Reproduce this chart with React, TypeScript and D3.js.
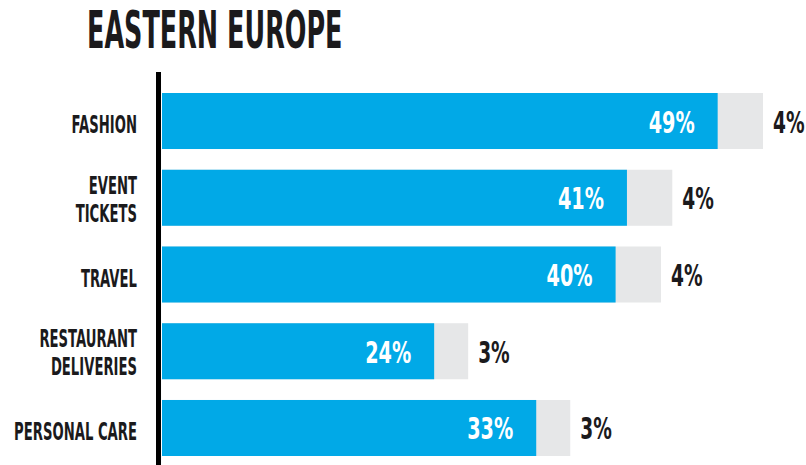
import React from "react";
import * as d3 from "d3";

const title = "EASTERN EUROPE";
const categories = ["FASHION", "EVENT TICKETS", "TRAVEL", "RESTAURANT DELIVERIES", "PERSONAL CARE"];
const categoryLines = [["FASHION"], ["EVENT", "TICKETS"], ["TRAVEL"], ["RESTAURANT", "DELIVERIES"], ["PERSONAL CARE"]];
const mainValues = [49, 41, 40, 24, 33];
const extraValues = [4, 4, 4, 3, 3];

const W = 806;
const H = 465;
const BLUE = "#01a9e7";
const GREY = "#e6e7e8";
const INK = "#1b1a1c";
const FONT = "'DejaVu Sans', sans-serif";

export default function App() {
  const x = d3.scaleLinear().domain([0, 53]).range([162, 162 + 53 * 11.34]);
  const y = d3.scaleBand<string>().domain(categories).range([93, 456]).paddingInner(0.27).paddingOuter(0);
  const bw = y.bandwidth();

  return (
    <svg width={W} height={H} style={{ position: "absolute", left: 0, top: 0, background: "#fff" }}>
      <text
        transform={`translate(87,48) scale(0.49,1)`}
        fontFamily={FONT}
        fontWeight="bold"
        fontSize={52}
        fill={INK}
      >
        {title}
      </text>
      <rect x={156} y={72} width={5} height={H - 72} fill="#000" />
      {categories.map((c, i) => {
        const y0 = y(c) as number;
        const cy = y0 + bw / 2;
        const v = mainValues[i];
        const e = extraValues[i];
        const lines = categoryLines[i];
        return (
          <g key={c}>
            <rect x={x(0)} y={y0} width={x(v + e) - x(0)} height={bw} fill={GREY} />
            <rect x={x(0)} y={y0} width={x(v) - x(0)} height={bw} fill={BLUE} />
            <text
              transform={`translate(${x(v) - 23},${cy + 11.5}) scale(0.62,1)`}
              textAnchor="end"
              fontFamily={FONT}
              fontWeight="bold"
              fontSize={31}
              fill="#fff"
            >
              {v}%
            </text>
            <text
              transform={`translate(${x(v + e) + 10},${cy + 11.5}) scale(0.6,1)`}
              textAnchor="start"
              fontFamily={FONT}
              fontWeight="bold"
              fontSize={31}
              fill={INK}
            >
              {e}%
            </text>
            {lines.map((ln, j) => {
              const by = lines.length === 1 ? cy + 12 : cy - 4 + j * 28;
              return (
                <text
                  key={ln}
                  transform={`translate(137,${by}) scale(0.55,1)`}
                  textAnchor="end"
                  fontFamily={FONT}
                  fontWeight="bold"
                  fontSize={24}
                  fill={INK}
                >
                  {ln}
                </text>
              );
            })}
          </g>
        );
      })}
    </svg>
  );
}
